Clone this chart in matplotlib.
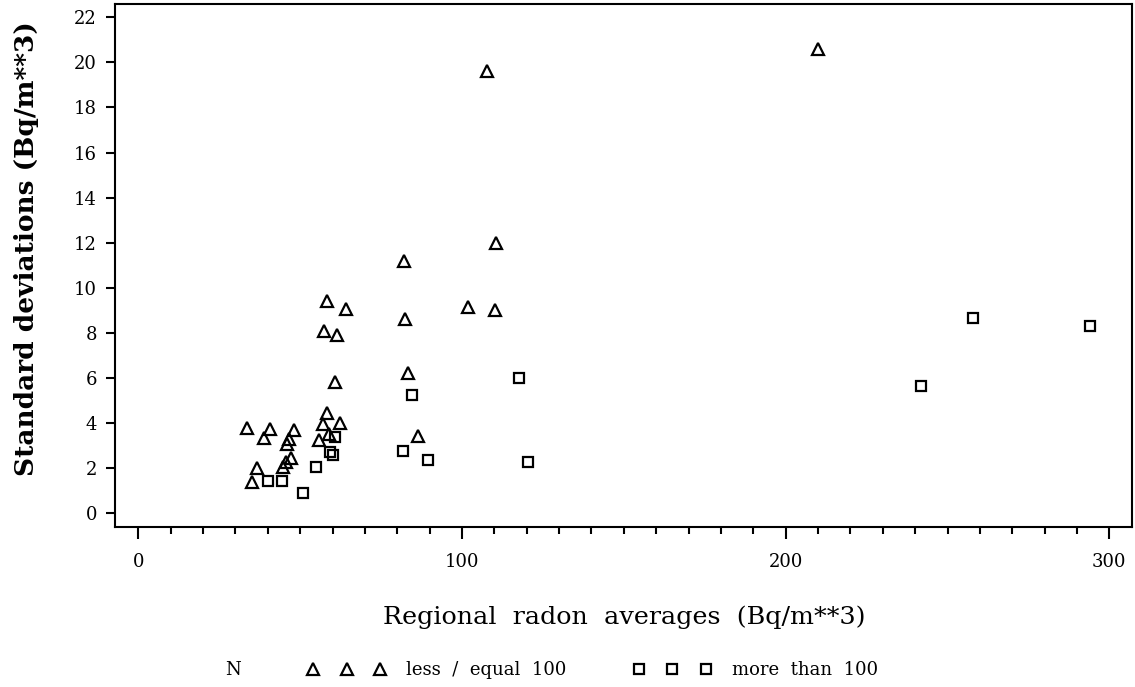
import matplotlib
matplotlib.use("Agg")
import matplotlib.pyplot as plt
from matplotlib.ticker import MultipleLocator

# regional averages / standard deviations, N <= 100
le100_x = [210.0, 107.7, 110.5, 82.0, 101.8, 110.2, 82.5, 58.2, 64.2, 57.4,
           61.4, 60.7, 83.2, 58.3, 57.0, 62.2, 58.9, 55.9, 86.3, 33.5,
           40.8, 48.2, 38.9, 46.0, 46.6, 47.2, 45.6, 44.8, 36.8, 35.2]
le100_y = [20.6, 19.6, 12.0, 11.2, 9.15, 9.0, 8.6, 9.43, 9.05, 8.1,
           7.92, 5.82, 6.24, 4.46, 3.96, 4.0, 3.5, 3.25, 3.44, 3.77,
           3.74, 3.69, 3.33, 3.1, 3.3, 2.47, 2.3, 2.05, 2.0, 1.4]

# N > 100
gt100_x = [60.9, 59.2, 60.2, 54.8, 40.0, 44.3, 50.8, 84.5, 117.6, 81.7,
           89.4, 120.5, 258.0, 294.0, 241.7]
gt100_y = [3.4, 2.72, 2.57, 2.04, 1.45, 1.45, 0.89, 5.25, 6.02, 2.78,
           2.36, 2.29, 8.65, 8.32, 5.65]

plt.rcParams['font.family'] = ['DejaVu Serif']

fig = plt.figure(figsize=(11.35, 6.87), dpi=100)
ax = fig.add_axes([0.1013, 0.2333, 0.8958, 0.7609])

h1, = ax.plot(le100_x, le100_y, linestyle='none', marker='^', ms=8.0,
              mfc='none', mec='black', mew=1.6, label='less  /  equal  100')
h2, = ax.plot(gt100_x, gt100_y, linestyle='none', marker='s', ms=6.6,
              mfc='none', mec='black', mew=1.6, label='more  than  100')

ax.set_xlim(-7.2, 306.9)
ax.set_ylim(-0.59, 22.59)
ax.xaxis.set_major_locator(MultipleLocator(100))
ax.xaxis.set_minor_locator(MultipleLocator(10))
ax.yaxis.set_major_locator(MultipleLocator(2))

for sp in ax.spines.values():
    sp.set_linewidth(1.5)

ax.tick_params(axis='x', which='major', length=8.6, width=1.5, pad=10, labelsize=13)
ax.tick_params(axis='x', which='minor', length=4.8, width=1.5)
ax.tick_params(axis='y', which='major', length=6.5, width=1.5, pad=6.5, labelsize=13)

fig.text(0.550, 0.102, 'Regional  radon  averages  (Bq/m**3)', ha='center',
         va='center', fontsize=18.3)
fig.text(27 / 1135, 1 - 249 / 687, 'Standard deviations (Bq/m**3)',
         rotation=90, ha='center', va='center', fontsize=19, fontweight='bold')

fig.text(233 / 1135, 1 - 670 / 687, 'N', ha='center', va='center', fontsize=13)
fig.legend(handles=[h1, h2], loc='center left',
           bbox_to_anchor=(0.2568, 1 - 670 / 687), ncol=2, frameon=False,
           numpoints=3, handlelength=4.3, handletextpad=1.15,
           columnspacing=3.7, fontsize=13)

plt.savefig('out.png', dpi=100)
plt.close()
